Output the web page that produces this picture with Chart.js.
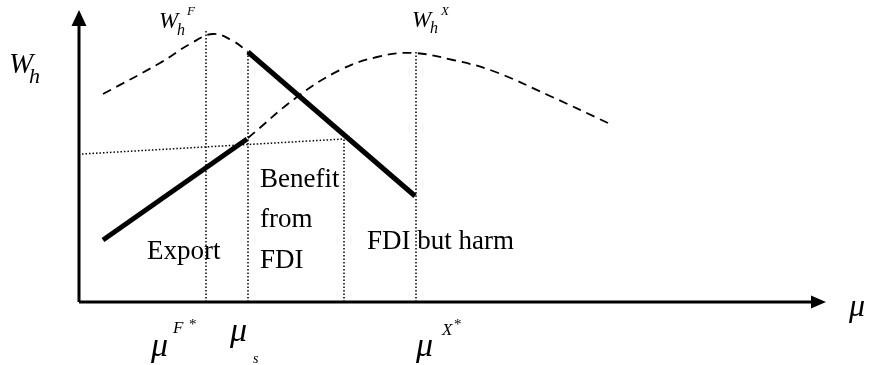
<!DOCTYPE html>
<html>
<head>
<meta charset="utf-8">
<script src="https://cdn.jsdelivr.net/npm/chart.js@4.4.1/dist/chart.umd.min.js"></script>
<style>
html, body { margin: 0; padding: 0; background: #fff; }
</style>
</head>
<body>
<canvas id="welfareChart" width="870" height="365"></canvas>
<script>
// values: x = mu, y = W_h (arbitrary units)
const curveF = [[2.4, 20.8], [8.1, 23.9], [11.1, 25.8], [13.4, 26.8], [15.4, 26.1], [16.9, 25.0]];
const curveX = [[16.9, 16.4], [21.8, 20.5], [26.1, 23.2], [29.8, 24.5], [33.4, 24.9], [37.4, 24.2], [41.4, 23.1], [47.1, 20.6], [52.9, 17.9]];
const fdiLine = [[16.9, 25.0], [33.6, 10.6]];
const exportLine = [[2.4, 6.2], [16.8, 16.3]];
const refLine = [[0.3, 14.8], [26.5, 16.3]];
// vertical guides: mu position and top value
const guideMu = [12.7, 16.9, 26.5, 33.7];
const guideTop = [27.2, 25.0, 16.3, 25.0];
const axisX = [[0, 0], [73.6, 0]];
const axisY = [[0, 0], [0, 28.0]];

const SERIF = '"Liberation Serif", "Times New Roman", serif';

function pts(arr) {
    return arr.map(p => ({ x: p[0], y: p[1] }));
}

const datasets = [];

datasets.push({ data: pts(fdiLine), borderColor: '#000', borderWidth: 5, borderCapStyle: 'butt' });
datasets.push({ data: pts(exportLine), borderColor: '#000', borderWidth: 5, borderCapStyle: 'butt' });
datasets.push({ data: pts(curveF), borderColor: '#000', borderWidth: 1.8, borderDash: [9, 6], tension: 0.4 });
datasets.push({ data: pts(curveX), borderColor: '#000', borderWidth: 1.8, borderDash: [9, 6], tension: 0.4 });
datasets.push({ data: pts(refLine), borderColor: '#000', borderWidth: 1.5, borderDash: [1.5, 2] });
guideMu.forEach((m, i) => {
    datasets.push({ data: [{ x: m, y: 0 }, { x: m, y: guideTop[i] }], borderColor: '#000', borderWidth: 1.5, borderDash: [1.5, 2] });
});
datasets.push({ data: pts(axisX), borderColor: '#000', borderWidth: 3, borderCapStyle: 'butt' });
datasets.push({ data: pts(axisY), borderColor: '#000', borderWidth: 3, borderCapStyle: 'butt' });

// arrow heads + math labels
const annotate = {
    id: 'annotate',
    afterDatasetsDraw(chart) {
        const ctx = chart.ctx;
        const sx = chart.scales.x, sy = chart.scales.y;
        const px = v => sx.getPixelForValue(v);
        const py = v => sy.getPixelForValue(v);

        ctx.save();
        ctx.fillStyle = '#000';

        // x arrow
        let ex = px(axisX[1][0]), ey = py(axisX[1][1]);
        ctx.beginPath();
        ctx.moveTo(ex - 4, ey - 6.5);
        ctx.lineTo(ex + 11, ey);
        ctx.lineTo(ex - 4, ey + 6.5);
        ctx.closePath();
        ctx.fill();

        // y arrow
        ex = px(axisY[1][0]); ey = py(axisY[1][1]);
        ctx.beginPath();
        ctx.moveTo(ex - 7.5, ey + 4);
        ctx.lineTo(ex, ey - 12);
        ctx.lineTo(ex + 7.5, ey + 4);
        ctx.closePath();
        ctx.fill();

        const put = (txt, m, w, size, italic) => {
            ctx.font = (italic ? 'italic ' : '') + size + 'px ' + SERIF;
            ctx.textAlign = 'left';
            ctx.textBaseline = 'alphabetic';
            ctx.fillText(txt, px(m), py(w));
        };

        put('W', -7.0, 22.9, 29, true);
        put('h', -5.0, 21.9, 22, true);

        put('W', 8.0, 27.4, 23, true);
        put('h', 9.8, 26.7, 16, true);
        put('F', 10.8, 28.7, 13, true);

        put('W', 33.3, 27.5, 23, true);
        put('h', 35.1, 26.9, 16, true);
        put('X', 36.2, 28.7, 13, true);

        put('Export', 6.8, 4.3, 27, false);
        put('Benefit', 18.1, 11.5, 27, false);
        put('from', 18.1, 7.5, 27, false);
        put('FDI', 18.1, 3.4, 27, false);
        put('FDI but harm', 28.8, 5.3, 27, false);

        put('μ', 7.2, -5.4, 34, true);
        put('F', 9.4, -3.1, 17, true);
        put('*', 11.0, -2.7, 15, false);

        put('μ', 15.1, -3.9, 34, true);
        put('s', 17.4, -6.1, 14, true);

        put('μ', 33.7, -5.4, 34, true);
        put('X', 36.3, -3.3, 17, true);
        put('*', 37.5, -2.7, 15, false);

        put('μ', 77.0, -1.4, 32, true);

        ctx.restore();
    }
};

new Chart(document.getElementById('welfareChart'), {
    type: 'scatter',
    data: { datasets: datasets },
    options: {
        responsive: false,
        animation: false,
        showLine: true,
        layout: { padding: 0 },
        elements: {
            point: { radius: 0, hoverRadius: 0 },
            line: { fill: false, tension: 0 }
        },
        scales: {
            x: { type: 'linear', min: -7.9, max: 79.1, display: false },
            y: { type: 'linear', min: -6.3, max: 30.2, display: false }
        },
        plugins: {
            legend: { display: false },
            tooltip: { enabled: false }
        }
    },
    plugins: [annotate]
});
</script>
</body>
</html>
